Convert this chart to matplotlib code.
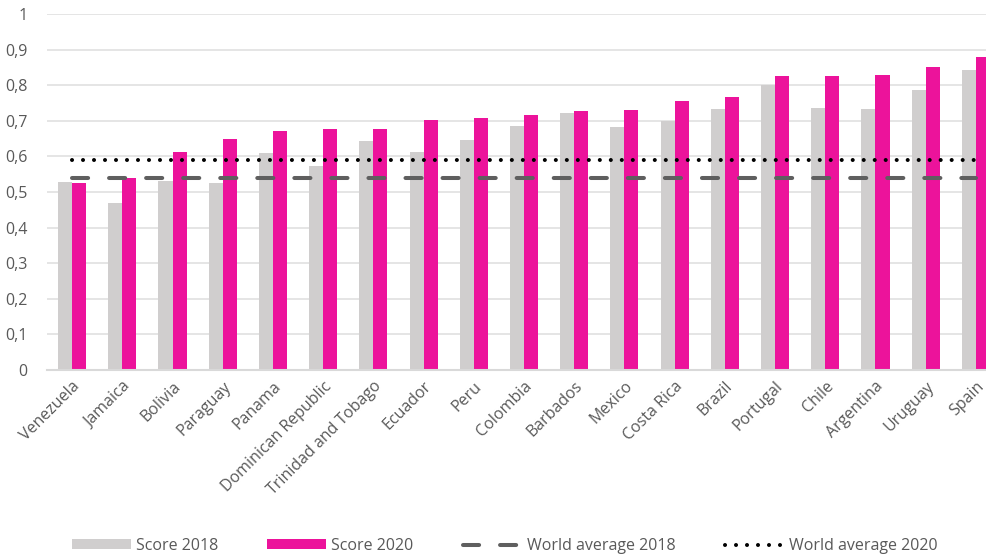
import matplotlib.pyplot as plt
import numpy as np

countries = ["Venezuela", "Jamaica", "Bolivia", "Paraguay", "Panama", "Dominican Republic",
             "Trinidad and Tobago", "Ecuador", "Peru", "Colombia", "Barbados", "Mexico",
             "Costa Rica", "Brazil", "Portugal", "Chile", "Argentina", "Uruguay", "Spain"]
score_2018 = [0.527, 0.469, 0.530, 0.525, 0.609, 0.572, 0.643, 0.612, 0.645, 0.686,
              0.722, 0.682, 0.700, 0.732, 0.802, 0.735, 0.733, 0.786, 0.842]
score_2020 = [0.525, 0.538, 0.612, 0.648, 0.670, 0.677, 0.678, 0.701, 0.708, 0.716,
              0.728, 0.729, 0.757, 0.767, 0.825, 0.826, 0.828, 0.850, 0.880]
world_2018 = 0.539
world_2020 = 0.590
y_ticks = [0, 0.1, 0.2, 0.3, 0.4, 0.5, 0.6, 0.7, 0.8, 0.9, 1]
y_labels = ["0", "0,1", "0,2", "0,3", "0,4", "0,5", "0,6", "0,7", "0,8", "0,9", "1"]

grey = "#d0cece"
pink = "#ec139b"
txt = "#595959"

plt.rcParams['font.family'] = ['Open Sans', 'DejaVu Sans']

fig = plt.figure(figsize=(9.87, 5.56), dpi=100)
ax = fig.add_axes([0.0476, 0.3345, 0.9666, 0.6403])

x = np.arange(len(countries))
w = 0.28
b1 = ax.bar(x - w / 2, score_2018, w, color=grey, label="Score 2018", zorder=2)
b2 = ax.bar(x + w / 2, score_2020, w, color=pink, label="Score 2020", zorder=2)

l1, = ax.plot([x[0], x[-1]], [world_2018] * 2, color="#5f5f5f", lw=2.9, dashes=(4.0, 5.2),
              dash_capstyle="round", label="World average 2018", zorder=3)
l2, = ax.plot([x[0], x[-1]], [world_2020] * 2, color="black", lw=2.9, dashes=(0.01, 2.72),
              dash_capstyle="round", label="World average 2020", zorder=3)

ax.set_xlim(-0.5, len(countries) - 0.5)
ax.set_ylim(0, 1)
ax.set_yticks(y_ticks)
ax.set_yticklabels(y_labels, color=txt, fontsize=11.5)
ax.set_xticks(x)
ax.set_xticklabels(countries, rotation=45, ha="right", rotation_mode="anchor",
                   color=txt, fontsize=11.5)
ax.tick_params(axis="both", length=0)
ax.tick_params(axis="y", pad=14)
ax.tick_params(axis="x", pad=6)
ax.grid(axis="y", color="#e0e0e0", lw=1.2, zorder=0)
for s in ["top", "right", "left"]:
    ax.spines[s].set_visible(False)
ax.spines["bottom"].set_color("#d9d9d9")
ax.spines["bottom"].set_linewidth(1.5)

fig.legend(handles=[b1, b2, l1, l2], loc="lower left", bbox_to_anchor=(0.058, -0.022),
           ncol=4, frameon=False, fontsize=11.5, labelcolor=txt, handlelength=3.7,
           handletextpad=0.3, columnspacing=3.1, handleheight=0.6)

fig.savefig("out.png", dpi=100)
